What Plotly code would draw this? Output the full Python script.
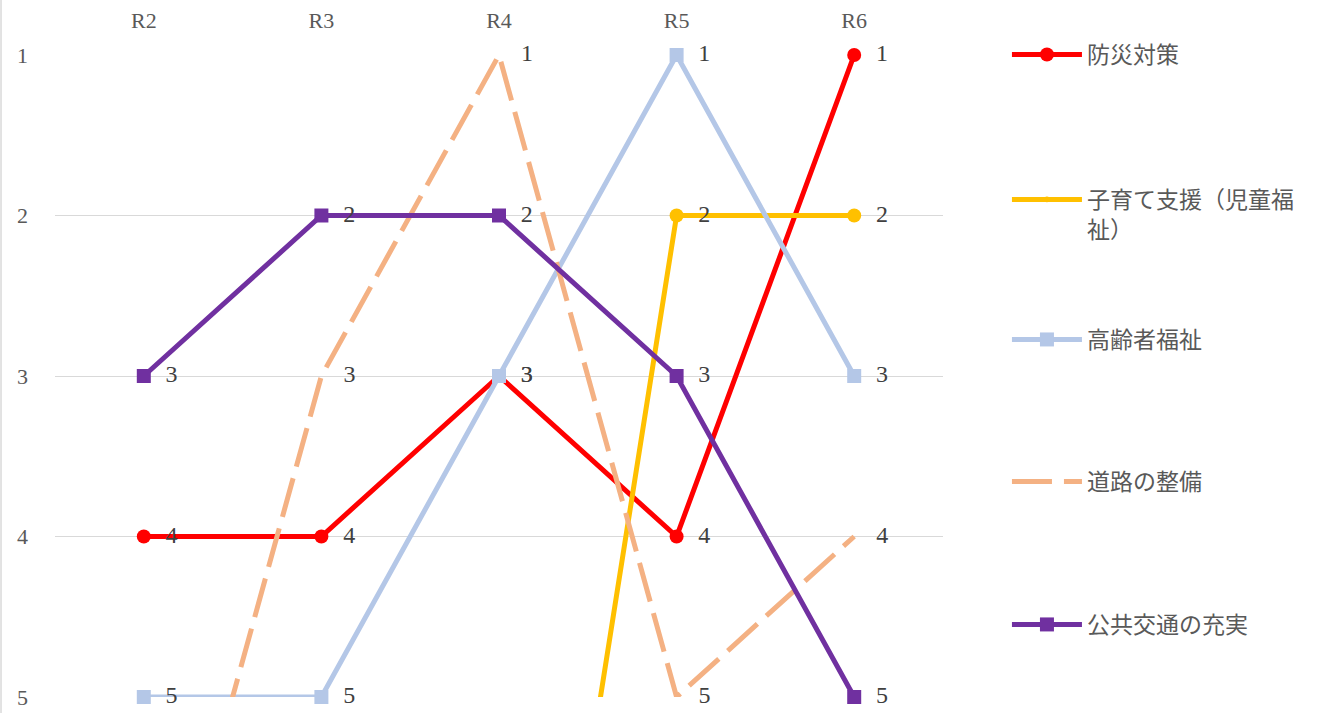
import plotly.graph_objects as go

categories = ["R2", "R3", "R4", "R5", "R6"]
series_names = ["防災対策", "子育て支援（児童福<br>祉）", "高齢者福祉", "道路の整備", "公共交通の充実"]
bousai = [4, 4, 3, 4, 1]
kosodate = [None, None, 9, 2, 2]
koureisha = [5, 5, 3, 1, 3]
douro = [7, 3, 1, 5, 4]
koukyou = [3, 2, 2, 3, 5]
rank_ticks = [1, 2, 3, 4, 5]

values = [bousai, kosodate, koureisha, douro, koukyou]
colors = ["#FF0000", "#FFC000", "#B4C7E7", "#F4B183", "#7030A0"]
symbols = ["circle", "circle", "square", None, "square"]
dashes = ["solid", "solid", "solid", "40px,12px", "solid"]
legend_ys = [0.9537, 0.7504, 0.5540, 0.3548, 0.1543]

FONT = "Liberation Serif, 'Noto Sans CJK JP', serif"
PAD_MARKER = "\u00a0\u00a0"
PAD_NOMARKER = "\u00a0\u00a0\u00a0\u200a\u200a"

fig = go.Figure()
legend_layouts = {}
for i, (name, vals, col, sym, dash) in enumerate(zip(series_names, values, colors, symbols, dashes)):
    visible = [v is not None and 1 <= v <= 5 for v in vals]
    pad = PAD_NOMARKER if sym is None else PAD_MARKER
    texts = [pad + str(v) if ok else "" for v, ok in zip(vals, visible)]
    if sym is None:
        msize = [0 for _ in vals]
        msym = "circle"
    else:
        msize = [14 if ok else 0 for ok in visible]
        msym = sym
    lg = "legend" if i == 0 else f"legend{i+1}"
    fig.add_trace(go.Scatter(
        x=categories, y=vals, name=name, legend=lg,
        mode="lines+markers+text",
        line=dict(color=col, width=5, dash=dash),
        marker=dict(symbol=msym, size=msize, color=col, opacity=1, line=dict(width=0)),
        text=texts, textposition="middle right",
        textfont=dict(family=FONT, size=24, color="#404040"),
        cliponaxis=False,
    ))
    legend_layouts[lg] = dict(
        xref="container", yref="container",
        x=0.764, y=legend_ys[i], xanchor="left", yanchor="top",
        itemwidth=70, valign="top", maxheight=700,
        font=dict(family=FONT, size=23, color="#595959"),
        bgcolor="rgba(0,0,0,0)",
    )

fig.update_layout(
    width=1318, height=713,
    margin=dict(l=55, r=375, t=55, b=16, autoexpand=False),
    paper_bgcolor="white", plot_bgcolor="white",
    font=dict(family=FONT, size=22, color="#595959"),
    showlegend=True,
    xaxis=dict(
        type="category", categoryorder="array", categoryarray=categories,
        side="top", range=[-0.5, 4.5], showgrid=False, zeroline=False,
        showline=False, ticks="", ticklabelstandoff=22,
        tickfont=dict(family=FONT, size=22, color="#595959"),
    ),
    yaxis=dict(
        range=[5, 1], tickvals=rank_ticks, showgrid=True, gridcolor="#D9D9D9",
        gridwidth=1.3, zeroline=False, showline=False, ticks="",
        ticklabelstandoff=26,
        tickfont=dict(family=FONT, size=22, color="#595959"),
    ),
    shapes=[dict(type="line", xref="paper", yref="paper",
                 x0=-0.0608, x1=-0.0608, y0=-0.03, y1=1.09,
                 line=dict(color="#D9D9D9", width=1.5))],
)
fig.update_layout(**legend_layouts)

fig.write_html("out.html", config={"displayModeBar": False},
               post_script="document.body.style.margin='0';")
